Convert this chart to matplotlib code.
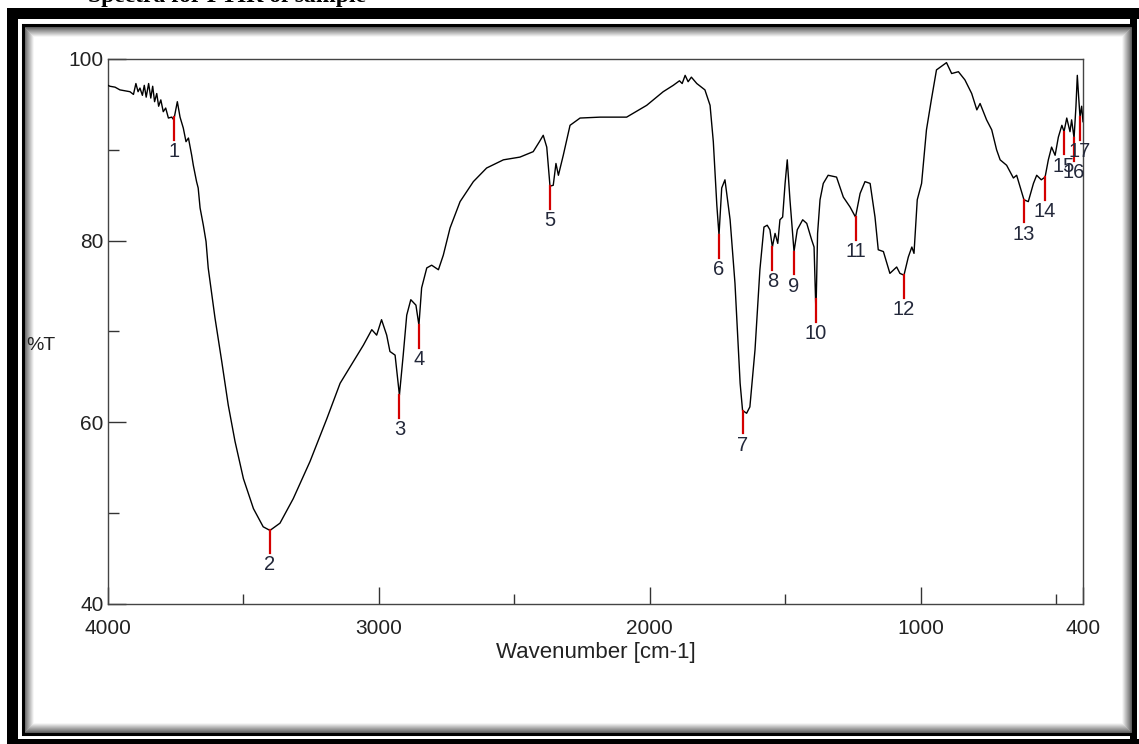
import matplotlib
matplotlib.use('Agg')
import matplotlib.pyplot as plt
from matplotlib.patches import Rectangle

plt.rcParams['font.family'] = ['Liberation Sans', 'DejaVu Sans']

# Spectrum (wavenumber in cm-1, %T)
wavenumber = [
    4000, 3993, 3974, 3956, 3937, 3919, 3906, 3897, 3889, 3882, 3873, 3866,
    3859, 3850, 3842, 3835, 3828, 3820, 3813, 3805, 3796, 3787, 3777, 3765,
    3757, 3744, 3734, 3722, 3712, 3703, 3691, 3685, 3673, 3667, 3660, 3648,
    3638, 3630, 3605, 3580, 3556, 3531, 3500, 3463, 3427, 3402, 3365, 3316,
    3254, 3192, 3143, 3094, 3057, 3026, 3008, 2990, 2971, 2959, 2940, 2924,
    2910, 2897, 2882, 2863, 2852, 2842, 2823, 2805, 2780, 2762, 2737, 2700,
    2651, 2602, 2540, 2479, 2430, 2407, 2393, 2380, 2368, 2356, 2346, 2337,
    2319, 2294, 2257, 2183, 2085, 2011, 1950, 1913, 1890, 1880, 1869, 1858,
    1846, 1826, 1796, 1777, 1765, 1752, 1744, 1734, 1722, 1703, 1685, 1666,
    1657, 1642, 1630, 1611, 1593, 1578, 1566, 1556, 1547, 1537, 1527, 1519,
    1509, 1500, 1492, 1482, 1467, 1455, 1435, 1420, 1402, 1393, 1386, 1380,
    1371, 1359, 1341, 1310, 1285, 1260, 1240, 1223, 1205, 1186, 1168, 1156,
    1137, 1113, 1088, 1076, 1061, 1045, 1032, 1024, 1012, 996, 978, 960,
    941, 904, 885, 860, 836, 811, 792, 780, 756, 737, 719, 706,
    682, 657, 645, 632, 618, 602, 583, 571, 554, 540, 528, 516,
    503, 491, 478, 470, 460, 448, 442, 433, 426, 421, 416, 411,
    405, 400,
]
transmittance = [
    97.1, 97.0, 96.9, 96.6, 96.5, 96.4, 96.1, 97.3, 96.4, 96.8, 96.0, 97.1,
    95.8, 97.3, 95.7, 97.0, 95.3, 96.2, 94.8, 95.5, 94.2, 94.6, 93.5, 93.6,
    93.3, 95.3, 93.6, 92.4, 90.9, 91.3, 89.4, 88.3, 86.5, 85.8, 83.6, 81.7,
    79.9, 77.0, 71.5, 66.7, 61.9, 57.9, 53.8, 50.5, 48.5, 48.1, 48.9, 51.6,
    55.7, 60.4, 64.3, 66.7, 68.5, 70.2, 69.6, 71.3, 69.6, 67.8, 67.4, 63.0,
    67.4, 71.8, 73.5, 72.9, 70.7, 74.8, 77.0, 77.3, 76.8, 78.4, 81.4, 84.3,
    86.5, 88.0, 88.9, 89.2, 89.8, 90.9, 91.6, 90.3, 86.0, 86.1, 88.5, 87.2,
    89.4, 92.7, 93.5, 93.6, 93.6, 94.9, 96.4, 97.1, 97.6, 97.3, 98.2, 97.5,
    98.0, 97.3, 96.6, 94.9, 90.9, 83.9, 80.6, 85.8, 86.7, 82.3, 75.3, 64.3,
    61.3, 61.0, 61.7, 68.0, 76.8, 81.5, 81.7, 81.2, 79.3, 80.8, 79.7, 82.3,
    82.6, 86.3, 88.9, 84.5, 78.8, 81.2, 82.3, 81.9, 80.1, 79.3, 72.0, 80.8,
    84.5, 86.3, 87.2, 87.0, 84.8, 83.7, 82.6, 85.2, 86.5, 86.3, 82.6, 79.0,
    78.8, 76.4, 77.1, 76.4, 76.2, 78.2, 79.3, 78.6, 84.5, 86.3, 92.2, 95.5,
    98.8, 99.6, 98.4, 98.6, 97.7, 96.2, 94.4, 95.1, 93.3, 92.2, 90.0, 88.9,
    88.3, 86.9, 87.2, 85.9, 84.5, 84.3, 86.3, 87.2, 86.7, 87.0, 88.9, 90.3,
    89.4, 91.4, 92.7, 92.0, 93.5, 92.0, 93.3, 91.3, 94.8, 98.2, 95.8, 93.6,
    94.8, 93.1,
]

# Picked peaks
peak_labels = [str(i) for i in range(1, 18)]
peak_wavenumber = [3757, 3402, 2924, 2852, 2368, 1744, 1657, 1547, 1467,
                   1386, 1240, 1061, 618, 540, 470, 433, 411]
peak_transmittance = [93.6, 48.1, 63.0, 70.7, 86.0, 80.6, 61.3, 79.3, 78.8,
                      73.6, 82.6, 76.2, 84.5, 87.0, 92.0, 91.3, 93.6]

x_major = [4000, 3000, 2000, 1000, 400]
x_minor = [3500, 2500, 1500, 500]
y_major = [40, 60, 80, 100]
y_minor = [50, 70, 90]

W, H = 1139, 744
fig = plt.figure(figsize=(W / 100, H / 100), dpi=100)


def fig_rect(x0, y0, x1, y1, **kw):
    """Rectangle given in image pixels (origin top-left), drawn under the axes"""
    r = Rectangle((x0 / W, 1 - y1 / H), (x1 - x0) / W, (y1 - y0) / H,
                  transform=fig.transFigure, zorder=-1, **kw)
    fig.add_artist(r)
    return r


# Outer thick black border
fig_rect(7, 8, 1139, 19, facecolor='black', edgecolor='none')
fig_rect(7, 8, 18, 744, facecolor='black', edgecolor='none')
fig_rect(7, 739, 1139, 744, facecolor='black', edgecolor='none')
fig_rect(1130, 8, 1137, 744, facecolor='black', edgecolor='none')

# Shadow fading inwards from the thin inner frame
for i in range(11):
    g = min(1.0, 0.38 + i * 0.065)
    fig_rect(24 + i, 27 + i, 1131 - i, 732 - i, facecolor='none',
             edgecolor=(g, g, g), linewidth=0.8)
fig_rect(23, 25, 1133, 734, facecolor='none', edgecolor='black', linewidth=2.2)

# Caption above the frame, cut off by the image edge
fig.text(88 / W, 1 - 2 / H, 'Spectra for FTIR of sample', fontsize=17,
         fontweight='bold', family=['Liberation Serif', 'DejaVu Serif'],
         ha='left', va='baseline')

ax = fig.add_axes([108 / W, 1 - 604 / H, 975 / W, 545 / H])
ax.plot(wavenumber, transmittance, color='black', linewidth=1.0, zorder=3)

# Peak marks and numbers
for lab, wn, t in zip(peak_labels, peak_wavenumber, peak_transmittance):
    ax.plot([wn, wn], [t, t - 2.5], color='#d40000', linewidth=1.6, zorder=4)
    ax.text(wn, t - 3.8, lab, fontsize=14.5, color='#23283a',
            ha='center', va='center', zorder=5)

ax.set_xlim(4000, 400)
ax.set_ylim(40, 100)
ax.set_xticks(x_major)
ax.set_xticks(x_minor, minor=True)
ax.set_yticks(y_major)
ax.set_yticks(y_minor, minor=True)
ax.tick_params(axis='both', which='both', direction='in', width=1.0,
               colors='#333333', labelcolor='#222222', labelsize=15)
ax.tick_params(axis='x', which='major', length=12, pad=11)
ax.tick_params(axis='x', which='minor', length=7)
ax.tick_params(axis='y', which='major', length=13, pad=3)
ax.tick_params(axis='y', which='minor', length=8)
for s in ax.spines.values():
    s.set_color('#444444')
    s.set_linewidth(1.0)

ax.set_xlabel('Wavenumber [cm-1]', fontsize=16, color='#222222', labelpad=3)
ax.set_ylabel('%T', fontsize=14, color='#222222', rotation=0,
              ha='center', va='center')
ax.yaxis.set_label_coords(-0.0687, 0.475)

plt.savefig('out.png', dpi=100)
plt.close()
